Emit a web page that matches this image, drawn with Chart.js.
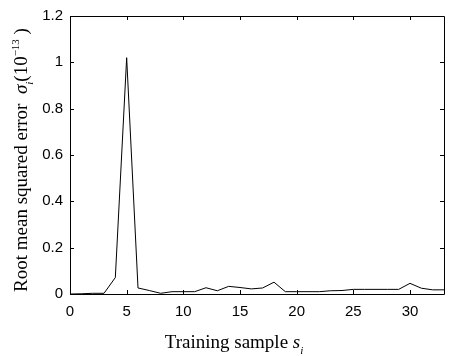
<!DOCTYPE html>
<html><head><meta charset="utf-8">
<script src="https://cdn.jsdelivr.net/npm/chart.js@4/dist/chart.umd.min.js"></script>
<style>html,body{margin:0;padding:0;background:#fff}#wrap{width:452px;height:356px}</style>
</head><body><div id="wrap"><canvas id="c" width="452" height="356"></canvas></div>
<script>
const samples = [0,1,2,3,4,5,6,7,8,9,10,11,12,13,14,15,16,17,18,19,20,21,22,23,24,25,26,27,28,29,30,31,32,33];
const rmse = [0,0.001,0.003,0.003,0.071,1.02,0.026,0.015,0.003,0.01,0.01,0.01,0.027,0.014,0.033,0.028,0.022,0.026,0.051,0.01,0.01,0.01,0.01,0.014,0.015,0.02,0.02,0.02,0.02,0.02,0.046,0.025,0.018,0.018];
const xTicks = [0,5,10,15,20,25,30];
const yTicks = [0,0.2,0.4,0.6,0.8,1,1.2];
const xTitle = [{t:"Training sample ",st:""},{t:"s",st:"italic"},{t:"i",st:"italic",pos:"sub"}];
const yTitle = [{t:"Root mean squared error  ",st:""},{t:"σ",st:"italic"},{t:"i",st:"italic",pos:"sub"},{t:"(10",st:""},{t:"−13",st:"",pos:"sup"},{t:" )",st:""}];

const SERIF = '"Liberation Serif","Times New Roman",serif';
function drawRich(ctx, parts, size){
  let widths = parts.map(p=>{ctx.font=(p.st?p.st+' ':'')+(p.pos?Math.round(size*0.6):size)+'px '+SERIF;return ctx.measureText(p.t).width;});
  const total = widths.reduce((a,b)=>a+b,0);
  let x = -total/2;
  parts.forEach((p,i)=>{
    const s = p.pos?Math.round(size*0.6):size;
    ctx.font=(p.st?p.st+' ':'')+s+'px '+SERIF;
    let dy = 0;
    if(p.pos==='sub') dy = size*0.3;
    if(p.pos==='sup') dy = -size*0.4;
    ctx.fillText(p.t, x, dy);
    x += widths[i];
  });
}
const framePlugin = {
  id:'frame',
  afterDraw(chart){
    const {ctx, chartArea:a, scales:{x,y}} = chart;
    ctx.save();
    ctx.strokeStyle='#000'; ctx.lineWidth=1;
    ctx.beginPath();
    ctx.rect(Math.round(a.left)+0.5, Math.round(a.top)+0.5, Math.round(a.right-a.left), Math.round(a.bottom-a.top));
    const L=4;
    xTicks.forEach(v=>{const px=Math.round(x.getPixelForValue(v))+0.5;
      ctx.moveTo(px,a.bottom);ctx.lineTo(px,a.bottom-L);ctx.moveTo(px,a.top);ctx.lineTo(px,a.top+L);});
    yTicks.forEach(v=>{const py=Math.round(y.getPixelForValue(v))+0.5;
      ctx.moveTo(a.left,py);ctx.lineTo(a.left+L,py);ctx.moveTo(a.right,py);ctx.lineTo(a.right-L,py);});
    ctx.stroke();
    ctx.fillStyle='#000'; ctx.textBaseline='alphabetic'; ctx.textAlign='left';
    ctx.save(); ctx.translate(234, 348); drawRich(ctx, xTitle, 19); ctx.restore();
    ctx.save(); ctx.translate(27, 160); ctx.rotate(-Math.PI/2); drawRich(ctx, yTitle, 19); ctx.restore();
    ctx.restore();
  }
};
new Chart(document.getElementById('c'), {
  type:'line',
  data:{datasets:[{data:samples.map((s,i)=>({x:s,y:rmse[i]})),borderColor:'#000',borderWidth:1,pointRadius:0,tension:0,fill:false}]},
  options:{
    responsive:false, animation:false, devicePixelRatio:1,
    layout:{padding:{top:13,right:8,left:0,bottom:0}},
    plugins:{legend:{display:false},tooltip:{enabled:false}},
    scales:{
      x:{type:'linear',min:0,max:33,
        afterBuildTicks(s){s.ticks=xTicks.map(v=>({value:v}));},
        afterFit(s){s.height=62;},
        grid:{display:false,drawTicks:false},border:{display:false},
        ticks:{color:'#000',padding:9,maxRotation:0,font:{family:'"Liberation Sans",Arial,sans-serif',size:15}}},
      y:{type:'linear',min:0,max:1.2,
        afterBuildTicks(s){s.ticks=yTicks.map(v=>({value:v}));},
        afterFit(s){s.width=70;},
        grid:{display:false,drawTicks:false},border:{display:false},
        ticks:{color:'#000',padding:7,font:{family:'"Liberation Sans",Arial,sans-serif',size:15},
          callback:v=>String(Math.round(v*10)/10)}}
    }
  },
  plugins:[framePlugin]
});
</script></body></html>
